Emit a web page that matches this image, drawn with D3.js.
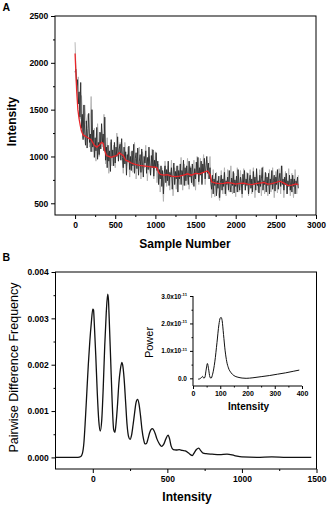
<!DOCTYPE html>
<html><head><meta charset="utf-8">
<script src="https://cdn.jsdelivr.net/npm/d3@7"></script>
<style>body{margin:0;background:#fff}svg{display:block}</style>
</head><body>
<svg id="c" width="327" height="505"></svg>
<script>
// ---------- Panel A data ----------
const darkStep = 10;
const darkA = [
1900,1930,1760,1820,1560,1690,1420,1790,1300,1450,
1180,1550,1250,1120,1380,1090,1300,1460,1150,1240,
1050,1500,1100,1280,990,1200,1060,1310,970,1150,
1020,1260,1080,1350,1150,1240,1060,1420,960,1100,
880,1120,950,1060,840,1180,990,1070,900,1150,
930,1100,1000,1210,950,1080,1130,960,1190,990,
880,1100,920,1050,800,1020,940,1110,860,1000,
850,1060,900,1130,820,980,1040,870,1090,800,
950,1020,830,1080,900,780,1000,930,1060,820,
990,860,1100,900,800,1010,880,1070,790,960,
880,1040,850,950,700,860,760,900,680,850,
600,820,900,720,860,740,950,690,830,780,
880,650,800,930,700,840,760,900,620,850,
760,920,700,850,800,960,690,880,740,900,
800,700,950,780,880,720,920,810,680,870,
760,940,820,990,730,880,800,950,700,920,
830,980,760,900,1000,820,930,760,880,720,
650,800,600,760,690,820,580,740,660,790,
560,720,800,640,760,680,830,600,740,700,
780,640,850,700,620,770,690,840,610,750,
680,790,620,860,700,640,780,720,600,810,
700,850,640,760,690,820,600,740,800,660,
760,620,840,700,780,640,870,690,740,610,
800,680,760,880,640,740,700,830,620,780,
690,820,600,760,700,850,650,740,800,630,
780,700,860,650,760,820,680,900,700,760,
640,780,700,820,600,740,680,800,640,760,
620,800,680,760,600,740,700,780,660];
const lightStep = 20;
const lightA = [
2220,1700,1850,1400,1650,1200,1550,1350,1450,1100,
1640,1050,1300,950,1350,1000,1250,1100,1450,920,
1200,820,1150,900,1120,880,1250,950,1150,1050,
820,1150,900,1100,780,1050,830,1150,760,1000,
1100,760,1050,880,1120,740,1000,800,1080,760,
1050,720,920,620,880,520,950,680,900,640,
960,580,880,650,900,700,990,640,920,690,
980,650,900,700,960,640,1000,700,980,720,
1020,700,960,760,1000,560,860,570,830,620,
530,850,600,880,580,860,620,900,600,820,
570,880,620,850,560,870,640,830,580,860,
600,880,560,840,620,860,580,890,600,820,
580,860,620,880,560,840,610,870,600,900,
560,840,600,870,580,820,560,860,600,800];
const redX = [0,10,20,35,50,65,80,100,130,160,200,240,270,300,330,350,370,390,420,450,480,520,550,580,600,630,660,700,750,800,850,900,950,1000,1020,1040,1060,1100,1150,1200,1250,1300,1350,1400,1450,1500,1550,1600,1650,1680,1700,1750,1800,1850,1900,1950,2000,2050,2100,2150,2200,2250,2300,2350,2400,2450,2500,2550,2600,2650,2700,2750,2780];
const redY = [2100,1900,1700,1500,1400,1330,1270,1230,1215,1200,1180,1120,1100,1120,1150,1140,1060,1010,1000,990,1000,1010,1040,1020,1010,960,950,930,915,905,900,895,890,885,880,830,810,800,805,790,785,790,800,815,800,820,815,830,845,810,730,715,710,712,722,715,705,712,716,705,700,710,716,722,705,710,722,737,715,692,695,708,700];
const xTicksA = [0,500,1000,1500,2000,2500,3000];
const yTicksA = [500,1000,1500,2000,2500];

// ---------- Panel B data ----------
const intB = [-250,-100,-80,-70,-60,-50,-40,-30,-20,-10,0,5,10,20,30,40,50,60,70,80,90,100,105,110,120,130,140,148,155,165,175,185,195,200,210,220,230,240,250,260,270,280,290,300,310,320,330,340,350,360,370,380,390,400,410,420,430,445,460,475,490,505,515,525,540,560,580,600,620,640,655,667,680,695,710,725,740,760,800,850,900,950,1000,1100,1200,1300,1465];
const freqB = [0,0,0.00002,0.00008,0.0003,0.0008,0.0014,0.002,0.0025,0.0029,0.0032,0.00318,0.0029,0.0022,0.0014,0.0008,0.00057,0.0008,0.0015,0.0024,0.0031,0.00352,0.0034,0.003,0.0021,0.0012,0.0006,0.00054,0.0007,0.0011,0.0016,0.0019,0.00205,0.002,0.0017,0.0012,0.0007,0.00045,0.00039,0.00048,0.0007,0.00095,0.00118,0.00125,0.00115,0.0009,0.0006,0.0004,0.00029,0.0003,0.0004,0.00052,0.0006,0.00062,0.00058,0.0005,0.0004,0.0003,0.00024,0.00028,0.0004,0.00048,0.0004,0.00025,0.00017,0.00016,0.00017,0.00015,0.00014,0.0001,0.00006,0.00004,0.0001,0.00017,0.0002,0.00014,0.00009,0.00008,0.00007,0.00006,0.00007,0.00004,0.00001,0,0.00001,0,0];
const xTicksB = [0,500,1000,1500];
const yTicksB = [0,0.001,0.002,0.003,0.004];

// ---------- Inset data (power in 1e-11) ----------
const intI = [19,25,30,35,40,44,48,53,57,62,66,72,80,88,95,100,103,107,112,118,124,130,140,150,165,180,195,220,250,280,310,340,370,390];
const powI = [-0.03,-0.02,0.02,0.07,0,0.05,0.3,0.54,0.35,0.05,0,0.15,0.6,1.3,1.95,2.2,2.22,2.1,1.6,1.0,0.6,0.38,0.2,0.1,0.04,0.01,0,0.02,0.06,0.1,0.15,0.2,0.26,0.3];
const xTicksI = [0,100,200,300,400];
const yTicksI = [0,1,2,3];

const FONT = '"Liberation Sans", Arial, Helvetica, sans-serif';
const svg = d3.select('#c');
const fmtInt = d3.format('d');

function styleAxis(g, fs, bold){
  g.select('.domain').remove();
  g.selectAll('.tick line').attr('stroke','#000').attr('stroke-width',1);
  g.selectAll('.tick text').attr('font-family',FONT).attr('font-size',fs).attr('font-weight',bold?'bold':'normal').attr('fill','#000');
}

// ---------- Panel A ----------
const xA = d3.scaleLinear([-250,3000],[55,316]);
const yA = d3.scaleLinear([375,2500],[215,16]);
const gA = svg.append('g');
gA.append('path').datum(lightA).attr('fill','none').attr('stroke','#b0b0b0').attr('stroke-width',0.9)
  .attr('d', d3.line().x((d,i)=>xA(i*lightStep)).y(d=>yA(d)));
gA.append('path').datum(darkA).attr('fill','none').attr('stroke','#2a2a2a').attr('stroke-width',0.9)
  .attr('d', d3.line().x((d,i)=>xA(i*darkStep)).y(d=>yA(d)));
gA.append('path').datum(redX.map((x,i)=>[x,redY[i]])).attr('fill','none').attr('stroke','#e8262a').attr('stroke-width',1.3)
  .attr('d', d3.line().x(d=>xA(d[0])).y(d=>yA(d[1])));
gA.append('rect').attr('x',55).attr('y',16).attr('width',261).attr('height',199).attr('fill','none').attr('stroke','#000').attr('stroke-width',1);
gA.append('g').attr('transform','translate(0,215)').call(d3.axisBottom(xA).tickValues([250,750,1250,1750,2250,2750]).tickSize(2).tickFormat('')).call(g=>styleAxis(g,8.5,true));
gA.append('g').attr('transform','translate(0,215)').call(d3.axisBottom(xA).tickValues(xTicksA).tickSize(4).tickPadding(2.5).tickFormat(fmtInt)).call(g=>styleAxis(g,8.5,true));
gA.append('g').attr('transform','translate(55,0)').call(d3.axisLeft(yA).tickValues([750,1250,1750,2250]).tickSize(2).tickFormat('')).call(g=>styleAxis(g,8.5,true));
gA.append('g').attr('transform','translate(55,0)').call(d3.axisLeft(yA).tickValues(yTicksA).tickSize(4).tickPadding(2.7).tickFormat(fmtInt)).call(g=>styleAxis(g,8.5,true));
svg.append('text').attr('x',185).attr('y',248).attr('text-anchor','middle').attr('font-family',FONT).attr('font-size',12).attr('font-weight','bold').text('Sample Number');
svg.append('text').attr('transform','translate(15.5,121.5) rotate(-90)').attr('text-anchor','middle').attr('font-family',FONT).attr('font-size',12).attr('font-weight','bold').text('Intensity');
svg.append('text').attr('x',2.5).attr('y',10.8).attr('font-family',FONT).attr('font-size',10.5).attr('font-weight','bold').text('A');

// ---------- Panel B ----------
const xB = d3.scaleLinear([-250,1500],[55.5,316.5]);
const yB = d3.scaleLinear([-0.00025,0.004],[469,272]);
const gB = svg.append('g');
gB.append('path').datum(intB.map((x,i)=>[x,freqB[i]])).attr('fill','none').attr('stroke','#111').attr('stroke-width',1.3)
  .attr('d', d3.line().x(d=>xB(d[0])).y(d=>yB(d[1])).curve(d3.curveMonotoneX));
gB.append('rect').attr('x',55.5).attr('y',272).attr('width',261).attr('height',197).attr('fill','none').attr('stroke','#000').attr('stroke-width',1);
gB.append('g').attr('transform','translate(0,469)').call(d3.axisBottom(xB).tickValues([250,750,1250]).tickSize(2).tickFormat('')).call(g=>styleAxis(g,8.5,true));
gB.append('g').attr('transform','translate(0,469)').call(d3.axisBottom(xB).tickValues(xTicksB).tickSize(4).tickPadding(2.5).tickFormat(fmtInt)).call(g=>styleAxis(g,8.5,true));
gB.append('g').attr('transform','translate(55.5,0)').call(d3.axisLeft(yB).tickValues([0.0005,0.0015,0.0025,0.0035]).tickSize(2).tickFormat('')).call(g=>styleAxis(g,8.5,true));
gB.append('g').attr('transform','translate(55.5,0)').call(d3.axisLeft(yB).tickValues(yTicksB).tickSize(4).tickPadding(2.7).tickFormat(d3.format('.3f'))).call(g=>styleAxis(g,8.5,true));
svg.append('text').attr('x',187).attr('y',501).attr('text-anchor','middle').attr('font-family',FONT).attr('font-size',12).attr('font-weight','bold').text('Intensity');
svg.append('text').attr('transform','translate(17.5,367.5) rotate(-90)').attr('text-anchor','middle').attr('font-family',FONT).attr('font-size',12.5).text('Pairwise Difference Frequency');
svg.append('text').attr('x',2.5).attr('y',261).attr('font-family',FONT).attr('font-size',10.5).attr('font-weight','bold').text('B');

// ---------- Inset ----------
const xI = d3.scaleLinear([0,400],[193,302]);
const yI = d3.scaleLinear([-0.28,3.0],[386,296]);
const gI = svg.append('g');
gI.append('path').datum(intI.map((x,i)=>[x,powI[i]])).attr('fill','none').attr('stroke','#111').attr('stroke-width',1)
  .attr('d', d3.line().x(d=>xI(d[0])).y(d=>yI(d[1])).curve(d3.curveMonotoneX));
gI.append('line').attr('x1',193).attr('x2',193).attr('y1',296).attr('y2',386).attr('stroke','#000');
gI.append('line').attr('x1',193).attr('x2',302).attr('y1',386).attr('y2',386).attr('stroke','#000');
gI.append('g').attr('transform','translate(0,386)').call(d3.axisBottom(xI).tickValues([50,150,250,350]).tickSize(1.5).tickFormat('')).call(g=>styleAxis(g,7,true));
gI.append('g').attr('transform','translate(0,386)').call(d3.axisBottom(xI).tickValues(xTicksI).tickSize(3).tickPadding(2).tickFormat(fmtInt)).call(g=>styleAxis(g,7,true));
gI.append('g').attr('transform','translate(193,0)').call(d3.axisLeft(yI).tickValues([0.5,1.5,2.5]).tickSize(1.5).tickFormat('')).call(g=>styleAxis(g,6.5,true));
const yAxI = gI.append('g').attr('transform','translate(193,0)').call(d3.axisLeft(yI).tickValues(yTicksI).tickSize(3).tickPadding(3).tickFormat('')).call(g=>styleAxis(g,6.5,true));
yAxI.selectAll('.tick').each(function(d){
  const t = d3.select(this).select('text');
  if(d===0){ t.text('0.0'); }
  else {
    t.text(null);
    t.append('tspan').text(d.toFixed(1)+'x10');
    t.append('tspan').attr('font-size',4.2).attr('dy',-2.6).text('-11');
  }
});
svg.append('text').attr('x',248.5).attr('y',410).attr('text-anchor','middle').attr('font-family',FONT).attr('font-size',10).attr('font-weight','bold').text('Intensity');
svg.append('text').attr('transform','translate(153,342.5) rotate(-90)').attr('text-anchor','middle').attr('font-family',FONT).attr('font-size',11).text('Power');
</script>
</body></html>
